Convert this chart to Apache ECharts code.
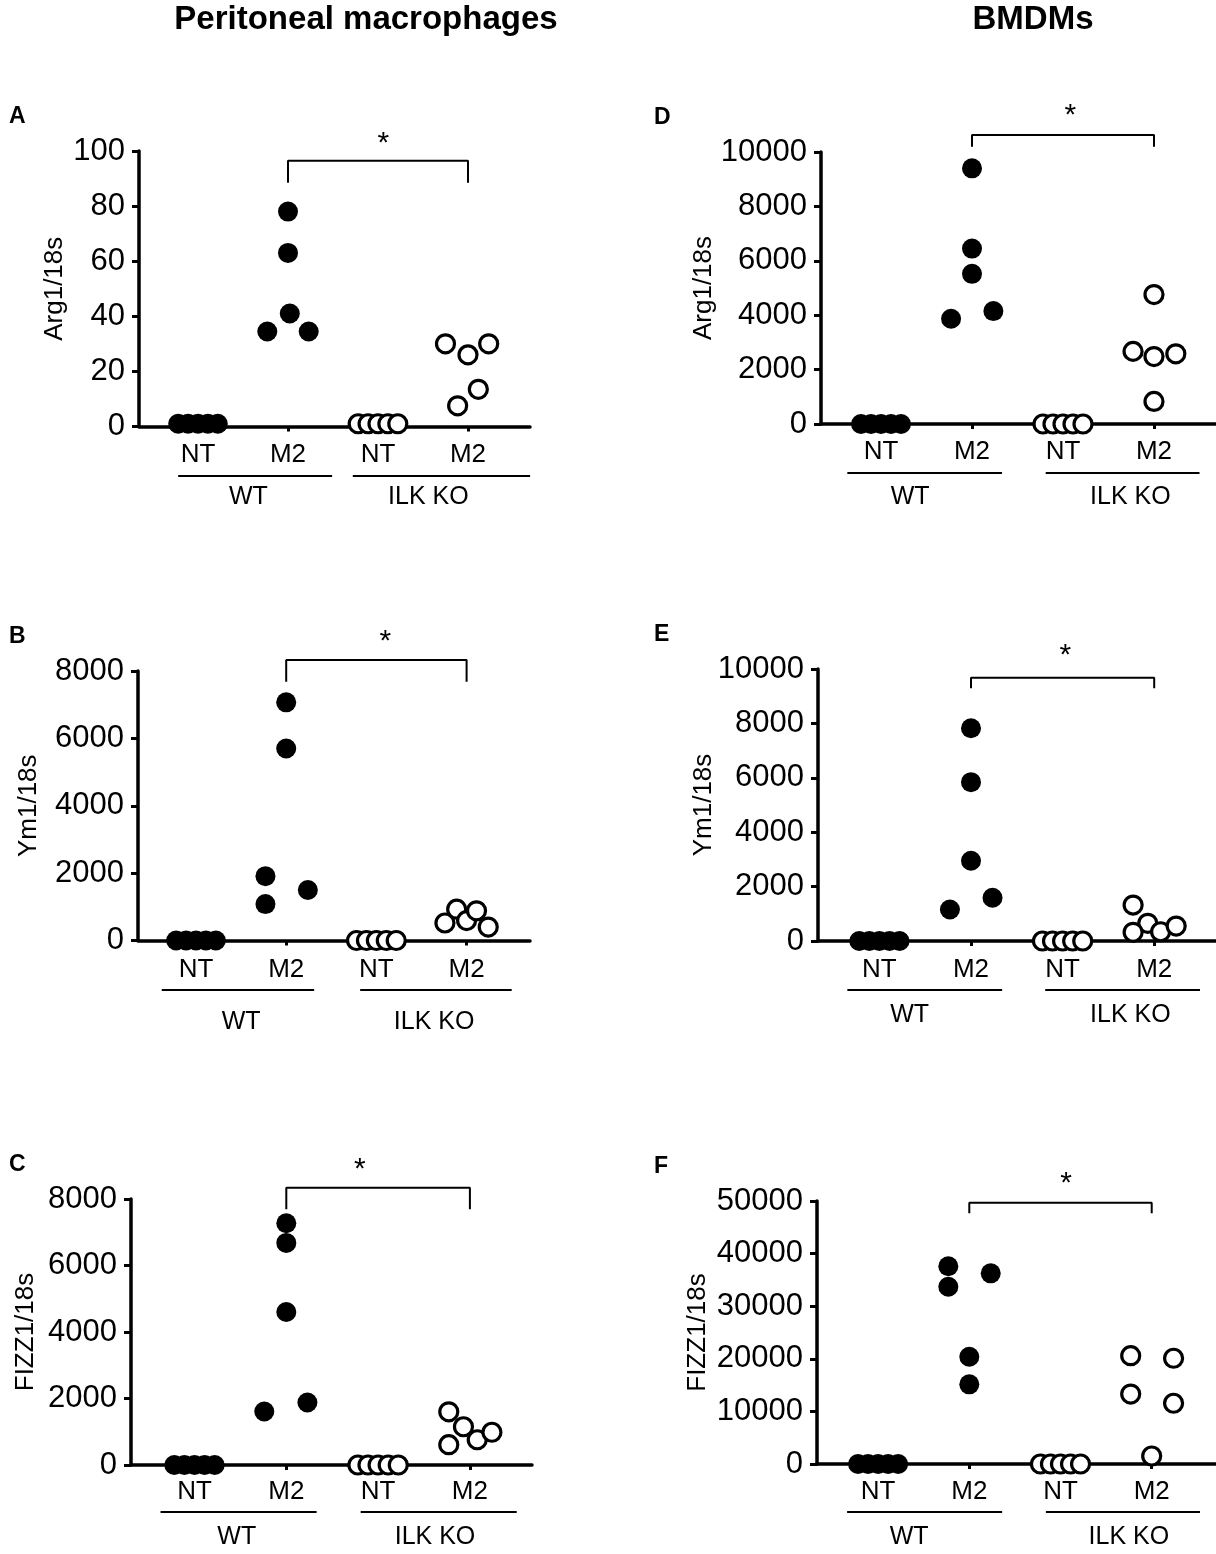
<!DOCTYPE html>
<html>
<head>
<meta charset="utf-8">
<script src="https://cdn.jsdelivr.net/npm/echarts@6/dist/echarts.min.js"></script>
<style>
  html, body { margin: 0; padding: 0; background: #fff; }
  #chart { width: 1216px; height: 1554px; }
</style>
</head>
<body>
<div id="chart"></div>
<script>
// tick labels and groups
var categories = ['NT', 'M2', 'NT', 'M2'];
var groupNames = ['WT', 'ILK KO'];

// horizontal spread of the NT dots (in category units)
var ntJitter = [-0.22, -0.11, 0, 0.11, 0.22];

// A - Arg1/18s, peritoneal macrophages
var pmArg1WtNt = [1, 1, 1, 1, 1];
var pmArg1WtM2 = [[0, 78], [0, 63], [0.02, 41], [-0.23, 34.5], [0.23, 34.5]];
var pmArg1KoNt = [1, 1, 1, 1, 1];
var pmArg1KoM2 = [[-0.25, 30], [0, 26], [0.23, 30], [0.115, 13.5], [-0.115, 7.5]];

// B - Ym1/18s, peritoneal macrophages
var pmYm1WtNt = [0, 0, 0, 0, 0];
var pmYm1WtM2 = [[0, 7070], [0, 5700], [-0.23, 1910], [-0.23, 1080], [0.24, 1500]];
var pmYm1KoNt = [0, 0, 0, 0, 0];
var pmYm1KoM2 = [[-0.24, 520], [-0.11, 930], [0, 590], [0.11, 880], [0.24, 400]];

// C - FIZZ1/18s, peritoneal macrophages
var pmFizzWtNt = [0, 0, 0, 0, 0];
var pmFizzWtM2 = [[0, 7270], [0, 6680], [0, 4600], [-0.24, 1610], [0.23, 1880]];
var pmFizzKoNt = [0, 0, 0, 0, 0];
var pmFizzKoM2 = [[-0.23, 1600], [-0.07, 1150], [-0.23, 610], [0.08, 760], [0.24, 985]];

// D - Arg1/18s, BMDMs
var bmArg1WtNt = [0, 0, 0, 0, 0];
var bmArg1WtM2 = [[0, 9400], [0, 6450], [0, 5520], [-0.23, 3870], [0.235, 4150]];
var bmArg1KoNt = [0, 0, 0, 0, 0];
var bmArg1KoM2 = [[0, 4760], [-0.23, 2670], [0, 2480], [0.24, 2580], [0, 830]];

// E - Ym1/18s, BMDMs
var bmYm1WtNt = [0, 0, 0, 0, 0];
var bmYm1WtM2 = [[0, 7820], [0, 5840], [0, 2950], [-0.23, 1160], [0.235, 1590]];
var bmYm1KoNt = [0, 0, 0, 0, 0];
var bmYm1KoM2 = [[-0.23, 1320], [-0.07, 650], [-0.23, 320], [0.07, 340], [0.24, 550]];

// F - FIZZ1/18s, BMDMs
var bmFizzWtNt = [0, 0, 0, 0, 0];
var bmFizzWtM2 = [[-0.23, 37600], [-0.23, 33700], [0.235, 36250], [0, 20400], [0, 15150]];
var bmFizzKoNt = [0, 0, 0, 0, 0];
var bmFizzKoM2 = [[-0.23, 20600], [0.24, 20100], [-0.23, 13300], [0.24, 11550], [0, 1520]];

var FONT = '"Liberation Sans", Arial, Helvetica, sans-serif';

// per panel: y-axis x, x-axis end, first category centre, category step (px)
var panels = [
  { letter: 'A', left: 139, end: 530, c0: 198, step: 90,
    top: 151, zero: 426.5, yMax: 100, yStep: 20, name: 'Arg1/18s', nameGap: 71,
    catY: 455, lineY: 476, groupY: 497, wtLine: [-0.22, 1.49], koLine: [1.72, 3.69], wtLabel: 0.56, koLabel: 2.56,
    bracket: [96.5, 88.5], star: [2.06, 102.5],
    wtNt: pmArg1WtNt, wtM2: pmArg1WtM2, koNt: pmArg1KoNt, koM2: pmArg1KoM2 },
  { letter: 'B', left: 138, end: 530, c0: 196, step: 90.2,
    top: 671, zero: 940.5, yMax: 8000, yStep: 2000, name: 'Ym1/18s', nameGap: 96,
    catY: 970, lineY: 990, groupY: 1022, wtLine: [-0.38, 1.31], koLine: [1.82, 3.5], wtLabel: 0.5, koLabel: 2.64,
    bracket: [8330, 7680], star: [2.1, 8880],
    wtNt: pmYm1WtNt, wtM2: pmYm1WtM2, koNt: pmYm1KoNt, koM2: pmYm1KoM2 },
  { letter: 'C', left: 131, end: 532, c0: 194.5, step: 91.8,
    top: 1199, zero: 1465, yMax: 8000, yStep: 2000, name: 'FIZZ1/18s', nameGap: 92,
    catY: 1492, lineY: 1512, groupY: 1537, wtLine: [-0.37, 1.33], koLine: [1.81, 3.51], wtLabel: 0.46, koLabel: 2.62,
    bracket: [8340, 7690], star: [1.8, 8880],
    wtNt: pmFizzWtNt, wtM2: pmFizzWtM2, koNt: pmFizzKoNt, koM2: pmFizzKoM2 },
  { letter: 'D', left: 821, end: 1216, c0: 881, step: 91,
    top: 152, zero: 424, yMax: 10000, yStep: 2000, name: 'Arg1/18s', nameGap: 104,
    catY: 452, lineY: 473, groupY: 497, wtLine: [-0.37, 1.33], koLine: [1.81, 3.5], wtLabel: 0.32, koLabel: 2.74,
    bracket: [10625, 10195], star: [2.08, 11350],
    wtNt: bmArg1WtNt, wtM2: bmArg1WtM2, koNt: bmArg1KoNt, koM2: bmArg1KoM2 },
  { letter: 'E', left: 818, end: 1216, c0: 879.4, step: 91.6,
    top: 669, zero: 941, yMax: 10000, yStep: 2000, name: 'Ym1/18s', nameGap: 101,
    catY: 970, lineY: 990, groupY: 1015, wtLine: [-0.35, 1.34], koLine: [1.81, 3.5], wtLabel: 0.33, koLabel: 2.74,
    bracket: [9680, 9290], star: [2.03, 10500],
    wtNt: bmYm1WtNt, wtM2: bmYm1WtM2, koNt: bmYm1KoNt, koM2: bmYm1KoM2 },
  { letter: 'F', left: 817, end: 1216, c0: 878.1, step: 91.2,
    top: 1201, zero: 1464, yMax: 50000, yStep: 10000, name: 'FIZZ1/18s', nameGap: 106,
    catY: 1492, lineY: 1512, groupY: 1537, wtLine: [-0.34, 1.36], koLine: [1.84, 3.53], wtLabel: 0.34, koLabel: 2.75,
    bracket: [49680, 47660], star: [2.06, 53300],
    wtNt: bmFizzWtNt, wtM2: bmFizzWtM2, koNt: bmFizzKoNt, koM2: bmFizzKoM2 }
];

var grids = [], xAxes = [], yAxes = [], series = [], graphics = [];

function shift(pairs, idx) {
  return pairs.map(function (p) { return [idx + p[0], p[1]]; });
}
function ntPoints(vals, idx) {
  return vals.map(function (v, k) { return [idx + ntJitter[k], v]; });
}

var filled = { color: '#000', opacity: 1 };
var open = { color: '#fff', borderColor: '#000', borderWidth: 3.2, opacity: 1 };

panels.forEach(function (p, i) {
  var xMin = (p.left - p.c0) / p.step;
  var xMax = (p.end - p.c0) / p.step;
  var g = i * 2, lg = i * 2 + 1;

  grids.push({ left: p.left, top: p.top, width: p.end - p.left, height: p.zero - p.top });
  grids.push({ left: p.left, top: p.lineY, width: p.end - p.left, height: p.groupY - p.lineY });

  xAxes.push({
    type: 'value', gridIndex: g, min: xMin, max: xMax,
    axisLine: { show: true, onZero: true, lineStyle: { color: '#000', width: 3.5 } },
    axisTick: { show: true, customValues: [0, 1, 2, 3], length: 5, lineStyle: { color: '#000', width: 3 } },
    axisLabel: {
      customValues: [0, 1, 2, 3], color: '#000', fontFamily: FONT, fontSize: 26,
      margin: p.catY - p.zero - 13,
      formatter: function (v) { return categories[Math.round(v)]; }
    },
    splitLine: { show: false }
  });
  xAxes.push({ type: 'value', gridIndex: lg, min: xMin, max: xMax, show: false });

  yAxes.push({
    type: 'value', gridIndex: g, min: 0, max: p.yMax, interval: p.yStep,
    name: p.name, nameLocation: 'middle', nameGap: p.nameGap, nameRotate: 90, nameMoveOverlap: false,
    nameTextStyle: { color: '#000', fontFamily: FONT, fontSize: 26 },
    axisLine: { show: true, onZero: false, lineStyle: { color: '#000', width: 3.5 } },
    axisTick: { show: true, length: 7, lineStyle: { color: '#000', width: 3 } },
    axisLabel: { color: '#000', fontFamily: FONT, fontSize: 31, margin: 14,
      formatter: function (v) { return String(v); } },
    splitLine: { show: false }
  });
  yAxes.push({ type: 'value', gridIndex: lg, min: 0, max: 1, show: false });

  var scatterBase = { type: 'scatter', xAxisIndex: g, yAxisIndex: g, symbol: 'circle', clip: false, silent: true };
  series.push(Object.assign({}, scatterBase, { symbolSize: 20, itemStyle: filled, data: ntPoints(p.wtNt, 0) }));
  series.push(Object.assign({}, scatterBase, { symbolSize: 20, itemStyle: filled, data: shift(p.wtM2, 1) }));
  series.push(Object.assign({}, scatterBase, { symbolSize: 18, itemStyle: open, data: ntPoints(p.koNt, 2) }));
  series.push(Object.assign({}, scatterBase, { symbolSize: 18, itemStyle: open, data: shift(p.koM2, 3) }));

  // significance bracket between the two M2 groups
  series.push({
    type: 'line', xAxisIndex: g, yAxisIndex: g, clip: false, silent: true, symbol: 'none',
    lineStyle: { color: '#000', width: 2 },
    data: [[1, p.bracket[1]], [1, p.bracket[0]], [3, p.bracket[0]], [3, p.bracket[1]]]
  });
  series.push({
    type: 'scatter', xAxisIndex: g, yAxisIndex: g, clip: false, silent: true, symbolSize: 0,
    itemStyle: { opacity: 1 },
    label: { show: true, position: 'inside', formatter: '*', color: '#000', fontFamily: FONT, fontSize: 30 },
    data: [p.star]
  });

  // group underlines and names
  [p.wtLine, p.koLine].forEach(function (ln) {
    series.push({
      type: 'line', xAxisIndex: lg, yAxisIndex: lg, clip: false, silent: true, symbol: 'none',
      lineStyle: { color: '#000', width: 2 },
      data: [[ln[0], 1], [ln[1], 1]]
    });
  });
  series.push({
    type: 'scatter', xAxisIndex: lg, yAxisIndex: lg, clip: false, silent: true, symbolSize: 0,
    itemStyle: { opacity: 1 },
    label: { show: true, position: 'inside', color: '#000', fontFamily: FONT, fontSize: 25,
      formatter: function (d) { return d.name; } },
    data: [{ name: groupNames[0], value: [p.wtLabel, 0] }, { name: groupNames[1], value: [p.koLabel, 0] }]
  });

  graphics.push({
    type: 'text', x: p.left < 600 ? 9 : 654, y: p.top - 34,
    style: { text: p.letter, fill: '#000', font: 'bold 23px ' + FONT, align: 'left', verticalAlign: 'middle',
      textAlign: 'left', textVerticalAlign: 'middle' }
  });
});

graphics.push({
  type: 'text', x: 366, y: 20,
  style: { text: 'Peritoneal macrophages', fill: '#000', font: 'bold 33px ' + FONT,
    align: 'center', verticalAlign: 'middle', textAlign: 'center', textVerticalAlign: 'middle' }
});
graphics.push({
  type: 'text', x: 1033, y: 20,
  style: { text: 'BMDMs', fill: '#000', font: 'bold 33px ' + FONT,
    align: 'center', verticalAlign: 'middle', textAlign: 'center', textVerticalAlign: 'middle' }
});

var chart = echarts.init(document.getElementById('chart'), null, { renderer: 'canvas' });
chart.setOption({
  backgroundColor: '#fff',
  animation: false,
  grid: grids,
  xAxis: xAxes,
  yAxis: yAxes,
  series: series,
  graphic: graphics
});
</script>
</body>
</html>
